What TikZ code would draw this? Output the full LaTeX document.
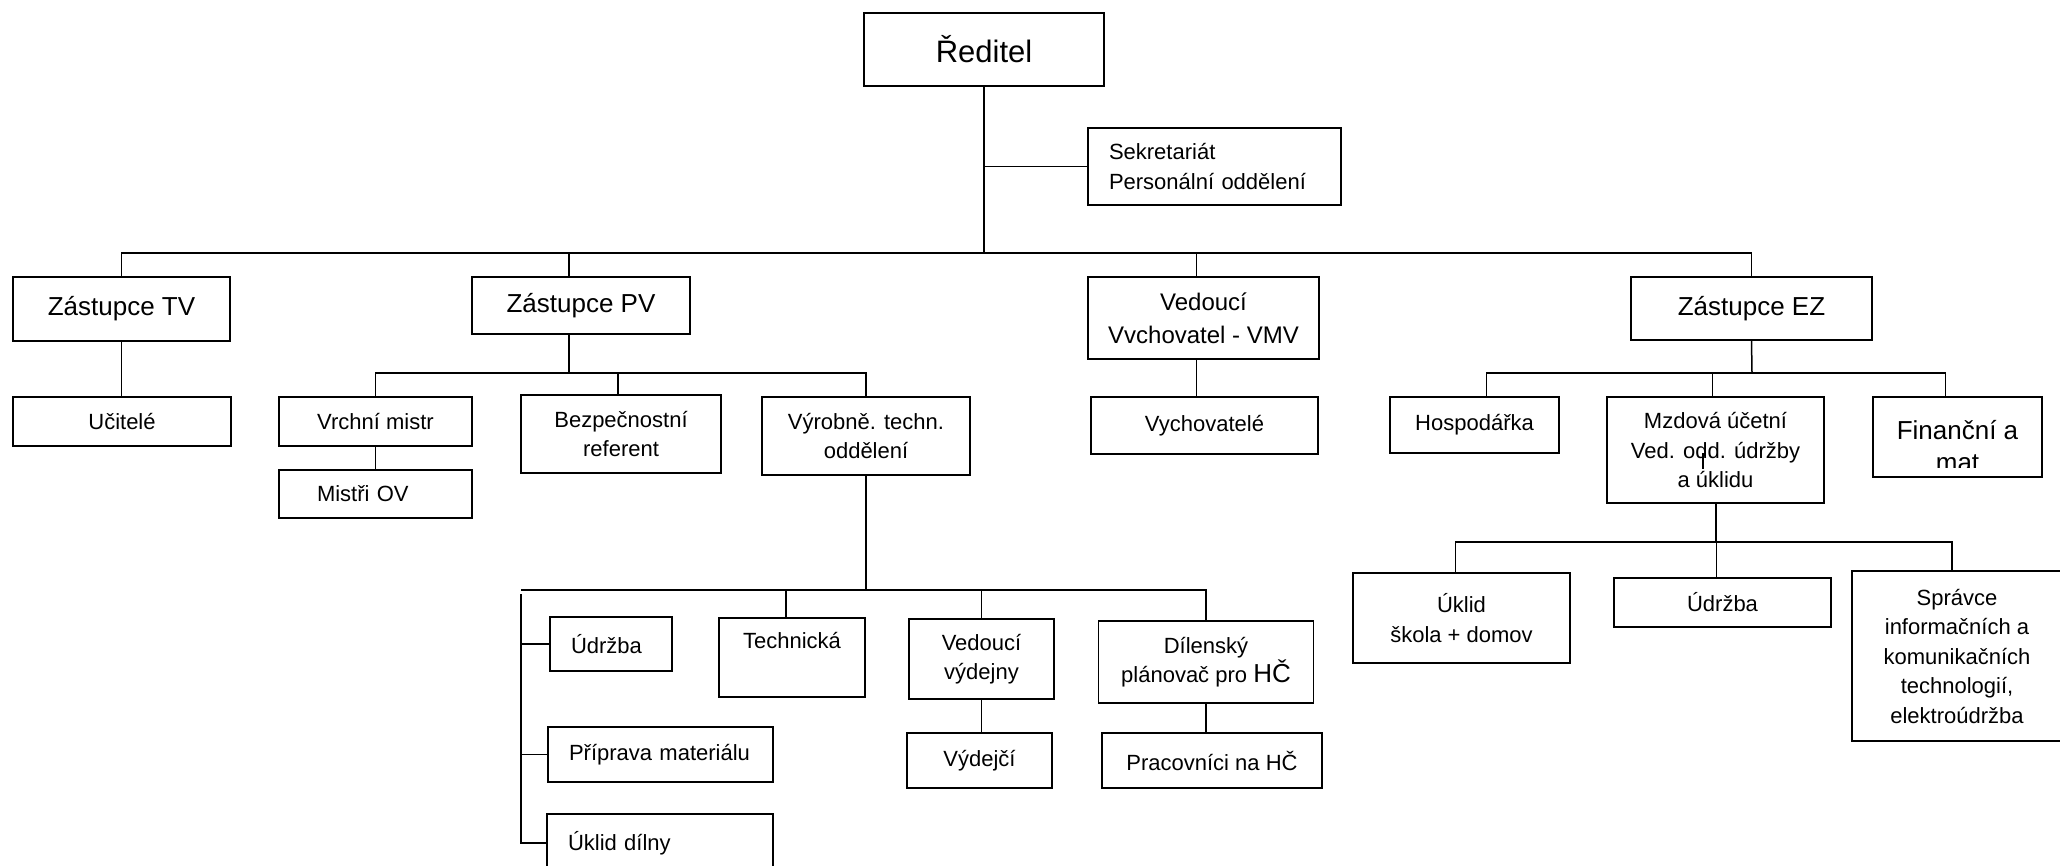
\documentclass[tikz,border=0pt]{standalone}
\usepackage{fontspec}
\setmainfont{Liberation Sans}
\newcommand\txtS{\fontsize{22}{29.5}\selectfont}
\newcommand\txtM{\fontsize{24}{33}\selectfont}
\newcommand\txtL{\fontsize{26}{31.5}\selectfont}
\newcommand\txtXL{\fontsize{31}{36}\selectfont}
\begin{document}
\begin{tikzpicture}
  [x=1pt,y=-1pt,
   unit/.style={draw, line width=1.8pt, inner sep=0pt, align=center, font=\txtS},
   leftunit/.style={unit, align=left, inner xsep=21pt, text width=#1},
   link/.style={line width=1.5pt}]
  \useasboundingbox (0,0) rectangle (2060,865);
  \clip (0,0) rectangle (2060,865);

  % top
  \node[unit, font=\txtXL, minimum width=240, minimum height=73] (reditel) at (984,49.5) {Ředitel};
  \node[leftunit=211pt, minimum height=77] (sekr) at (1214.5,166.5) {Sekretariát\\Personální oddělení};

  % deputies
  \node[unit, font=\txtL, minimum width=217, minimum height=64] (ztv) at (121.5,309) {Zástupce TV};
  \node[unit, font=\txtL, minimum width=218, minimum height=57] (zpv) at (581,305.5) {Zástupce PV};
  \node[unit, font=\txtM, minimum width=231, minimum height=82] (vmv) at (1203.5,318) {Vedoucí\\Vvchovatel - VMV};
  \node[unit, font=\txtL, minimum width=241, minimum height=63] (zez) at (1751.5,308.5) {Zástupce EZ};

  % second row
  \node[unit, minimum width=218, minimum height=49] (ucitele) at (122,421.5) {Učitelé};
  \node[unit, minimum width=193, minimum height=49] (vrchni) at (375.5,421.5) {Vrchní mistr};
  \node[leftunit=117pt, inner xsep=38pt, minimum height=48] (mistri) at (375.5,494) {Mistři OV};
  \node[unit, minimum width=200, minimum height=78] (bezp) at (621,434) {Bezpečnostní\\referent};
  \node[unit, minimum width=208, minimum height=78] (vyrob) at (866,436) {Výrobně. techn.\\oddělení};
  \node[unit, minimum width=227, minimum height=57] (vychov) at (1204.5,425.5) {Vychovatelé};
  \node[unit, minimum width=169, minimum height=56] (hosp) at (1474.5,425) {Hospodářka};
  \node[unit, minimum width=217, minimum height=106] (mzdova) at (1715.5,450) {Mzdová účetní\\Ved. odd. údržby\\a úklidu};
  \node[unit, minimum width=169, minimum height=80] (financni) at (1957.5,437) {};
  \node[font=\txtL, anchor=base] (fin1) at (1957.5,439) {Finanční a};
  \begin{scope}
    \clip (1873,397) rectangle (2042,467);
    \node[font=\txtL, anchor=base] (fin2) at (1957.5,471) {mat};
  \end{scope}

  % workshops
  \node[leftunit=80pt, minimum height=54] (udrzba1) at (611,644) {Údržba};
  \node[unit, minimum width=146, minimum height=79] (tech) at (792,657.5) {Technická\\\phantom{Ty}};
  \node[unit, minimum width=145, minimum height=80] (vydejny) at (981.5,659) {Vedoucí\\výdejny};
  \node[unit, minimum width=215, minimum height=82] (dilensky) at (1206,662) {Dílenský\\plánovač pro {\txtL HČ}};
  \node[unit, minimum width=145, minimum height=55] (vydejci) at (979.5,760.5) {Výdejčí};
  \node[unit, minimum width=220, minimum height=55] (pracovnici) at (1212,760.5) {Pracovníci na HČ};
  \node[leftunit=183pt, minimum height=55] (priprava) at (660.5,754.5) {Příprava materiálu};
  \node[leftunit=184pt, minimum height=58] (uklid) at (660,843) {Úklid dílny};

  % economy
  \node[unit, minimum width=217, minimum height=90] (uklid2) at (1461.5,618) {Úklid\\škola + domov};
  \node[unit, minimum width=217, minimum height=49] (udrzba2) at (1722.5,602.5) {Údržba};
  \node[unit, minimum width=210, minimum height=170] (spravce) at (1957,656) {Správce\\informačních a\\komunikačních\\technologií,\\elektroúdržba};

  % lines
  \coordinate (bus1) at (983,253);
  \draw[link] (reditel.south) -- (reditel.south |- bus1);
  \draw[link] (reditel.south |- sekr.west) -- (sekr.west);
  \draw[link] (ztv.north) |- (bus1) -| (zez.north);
  \draw[link] ([xshift=-12pt]zpv.north) -- ([xshift=-12pt]zpv.north |- bus1);
  \draw[link] ([xshift=-7pt]vmv.north) -- ([xshift=-7pt]vmv.north |- bus1);
  \draw[link] (ztv.south) -- (ztv.south |- ucitele.north);
  \draw[link] ([xshift=-7pt]vmv.south) -- ([xshift=-7pt]vmv.south |- vychov.north);

  \coordinate (bus2) at (569,373);
  \draw[link] ([xshift=-12pt]zpv.south) -- (bus2);
  \draw[link] (vrchni.north) |- (bus2) -| (vyrob.north);
  \draw[line width=2.6pt] (447,373) -- (473,373);
  \draw[link] ([xshift=-3pt]bezp.north) -- ([xshift=-3pt]bezp.north |- bus2);
  \draw[link] (vrchni.south) -- (mistri.north);

  \coordinate (bus3) at (866,590);
  \coordinate (lv) at (521,594);
  \draw[link] (vyrob.south) -- (bus3);
  \draw[link] (lv |- bus3) -| (dilensky.north);
  \draw[link] (lv) |- (uklid.west);
  \foreach \unitname in {udrzba1, priprava}
    \draw[link] (lv |- \unitname.west) -- (\unitname.west);
  \draw[link] ([xshift=-6pt]tech.north) -- ([xshift=-6pt]tech.north |- bus3);
  \draw[link] (vydejny.north) -- (vydejny.north |- bus3);
  \draw[link] (vydejny.south) -- (vydejny.south |- vydejci.north);
  \draw[link] (dilensky.south) -- (dilensky.south |- pracovnici.north);

  \coordinate (bus4) at (1752,373);
  \draw[link] (zez.south) -- (bus4);
  \draw[link] ([xshift=12pt]hosp.north) |- (bus4) -| ([xshift=-12pt]financni.north);
  \draw[link] ([xshift=-3pt]mzdova.north) -- ([xshift=-3pt]mzdova.north |- bus4);
  \coordinate (bus5) at (1716,542);
  \draw[link] (mzdova.south -| bus5) -- (bus5);
  \draw[link] ([xshift=-6pt]uklid2.north) |- (bus5) -| ([xshift=-5pt]spravce.north);
  \draw[link] ([xshift=-6pt]udrzba2.north) -- ([xshift=-6pt]udrzba2.north |- bus5);
  \draw[line width=1.2pt] (1703,453) -- (1703,469);
\end{tikzpicture}
\end{document}
